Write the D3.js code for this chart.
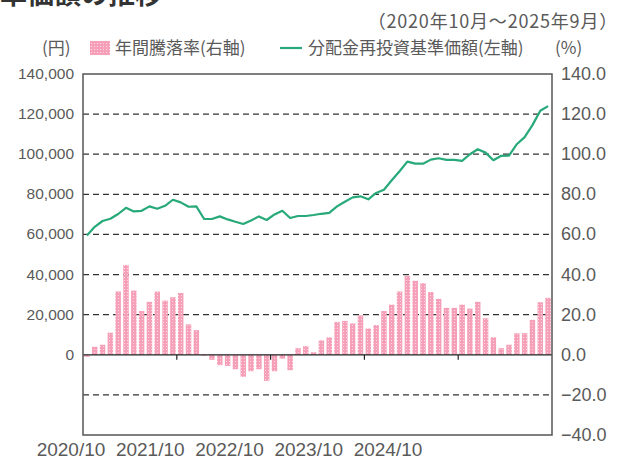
<!DOCTYPE html>
<html>
<head>
<meta charset="utf-8">
<script src="https://cdn.jsdelivr.net/npm/d3@7"></script>
<style>
  body { margin: 0; background: #fff; }
  svg { display: block; }
  text { font-family: "Liberation Sans", Arial, "Noto Sans CJK JP", sans-serif; fill: #5a5a5a; }
  .jp { font-family: "Noto Sans CJK JP", sans-serif; }
</style>
</head>
<body>
<div id="chart"></div>
<script>
// 年間騰落率 (%) 2020/10 - 2025/9, monthly
var returns = [-1, 4, 5, 11, 31.6, 44.8, 32, 21.8, 26.4, 31.5, 27, 28.7,
  30.8, 15.2, 12.3, -0.5, -2.5, -5.2, -5.6, -7.2, -11, -8.2, -7.2, -13,
  -8.2, -2, -7.7, 3.3, 4.3, 1.3, 7.2, 8.7, 16.4, 16.9, 15.6, 19.7,
  13.1, 14.8, 21.8, 25, 31.6, 39.3, 36.9, 35.7, 31.3, 27.9, 23.4, 23.4,
  25, 23, 26.4, 18.2, 8.7, 3.3, 5, 10.7, 10.8, 17.4, 26.2, 28.4];

// 分配金再投資基準価額 (円)
var nav = [59500, 63800, 66700, 67800, 70200, 73300, 71500, 71800, 74000, 72800, 74300, 77300,
  76000, 73800, 74000, 67700, 67700, 69000, 67500, 66300, 65200, 67000, 69000, 67200,
  70000, 71800, 68200, 69200, 69200, 69700, 70300, 70800, 74000, 76300, 78500, 79000,
  77500, 80700, 82300, 87000, 91500, 96300, 95300, 95300, 97300, 98000, 97200, 97200,
  96700, 100000, 102500, 100800, 97000, 99200, 99300, 105000, 108500, 114500, 121700, 124000];

var leftTicks = [140000, 120000, 100000, 80000, 60000, 40000, 20000, 0];
var rightTicks = [140, 120, 100, 80, 60, 40, 20, 0, -20, -40];
var xLabels = ["2020/10", "2021/10", "2022/10", "2023/10", "2024/10"];
var yearTicks = [12, 24, 36, 48];

var W = 617, H = 459;
var L = 83, R = 552, T = 74, B = 435;

var svg = d3.select("#chart").append("svg").attr("width", W).attr("height", H);

var months = d3.range(returns.length);
var x = d3.scaleBand().domain(months).range([L, R]).paddingInner(0.3).paddingOuter(0.15);
var xs = d3.scaleLinear().domain([0, returns.length]).range([L, R]);
var yL = d3.scaleLinear().domain([-40000, 140000]).range([B, T]);
var yR = d3.scaleLinear().domain([-40, 140]).range([B, T]);

// dot pattern for bars
var defs = svg.append("defs");
var pat = defs.append("pattern").attr("id", "dots").attr("patternUnits", "userSpaceOnUse")
  .attr("width", 3).attr("height", 3);
pat.append("rect").attr("width", 3).attr("height", 3).attr("fill", "#f5a0b8");
pat.append("rect").attr("x", 1).attr("y", 1).attr("width", 1).attr("height", 1).attr("fill", "#fcd8e2");

// title (cut at top) and period
svg.append("text").attr("class", "jp").attr("x", -27).attr("y", 4)
  .style("font-size", "27px").style("font-weight", "bold").style("fill", "#333")
  .text("基準価額の推移");
svg.append("text").attr("class", "jp").attr("x", 618).attr("y", 28)
  .attr("text-anchor", "end").style("font-size", "18px").style("letter-spacing", "0.8px")
  .text("（2020年10月～2025年9月）");

// grid
var gridVals = rightTicks.filter(function (d) { return d !== 0 && d !== 140 && d !== -40; });
svg.append("g").selectAll("line").data(gridVals).enter().append("line")
  .attr("x1", L).attr("x2", R)
  .attr("y1", function (d) { return yR(d); }).attr("y2", function (d) { return yR(d); })
  .attr("stroke", "#333").attr("stroke-width", 1.2).attr("stroke-dasharray", "6,4");

// bars
svg.append("g").selectAll("rect").data(returns).enter().append("rect")
  .attr("x", function (d, i) { return x(i); })
  .attr("width", x.bandwidth())
  .attr("y", function (d) { return yR(Math.max(0, d)); })
  .attr("height", function (d) { return Math.abs(yR(d) - yR(0)); })
  .attr("fill", "url(#dots)");

// zero line + year ticks
svg.append("line").attr("x1", L).attr("x2", R).attr("y1", yR(0)).attr("y2", yR(0))
  .attr("stroke", "#222").attr("stroke-width", 1.3);
svg.append("g").selectAll("line").data(yearTicks).enter().append("line")
  .attr("x1", function (d) { return xs(d); }).attr("x2", function (d) { return xs(d); })
  .attr("y1", yR(0)).attr("y2", yR(0) + 5)
  .attr("stroke", "#222").attr("stroke-width", 1.2);

// line
var line = d3.line()
  .x(function (d, i) { return x(i) + x.bandwidth() / 2; })
  .y(function (d) { return yL(d); });
svg.append("path").datum(nav).attr("d", line)
  .attr("fill", "none").attr("stroke", "#27a97a").attr("stroke-width", 2.2)
  .attr("stroke-linejoin", "round");

// frame
svg.append("rect").attr("x", L).attr("y", T).attr("width", R - L).attr("height", B - T)
  .attr("fill", "none").attr("stroke", "#555").attr("stroke-width", 1.5);

// left axis labels
svg.append("g").selectAll("text").data(leftTicks).enter().append("text")
  .attr("x", 74).attr("y", function (d) { return yL(d) + 5; })
  .attr("text-anchor", "end").style("font-size", "15.5px")
  .text(function (d) { return d3.format(",")(d); });

// right axis labels
svg.append("g").selectAll("text").data(rightTicks).enter().append("text")
  .attr("x", 561).attr("y", function (d) { return yR(d) + 6; })
  .style("font-size", "18px")
  .text(function (d) { return d3.format(".1f")(d); });

// bottom labels
var xl = d3.scalePoint().domain(xLabels).range([71, 388]);
svg.append("g").selectAll("text").data(xLabels).enter().append("text")
  .attr("x", function (d) { return xl(d); }).attr("y", 456)
  .attr("text-anchor", "middle").style("font-size", "19px")
  .text(function (d) { return d; });

// legend
svg.append("text").attr("class", "jp").attr("x", 42).attr("y", 54).style("font-size", "17px").text("(円)");
svg.append("rect").attr("x", 90).attr("y", 41).attr("width", 20).attr("height", 14).attr("fill", "url(#dots)");
svg.append("text").attr("class", "jp").attr("x", 115).attr("y", 54).style("font-size", "17px").text("年間騰落率(右軸)");
svg.append("line").attr("x1", 280).attr("x2", 302).attr("y1", 48).attr("y2", 48)
  .attr("stroke", "#27a97a").attr("stroke-width", 2.2);
svg.append("text").attr("class", "jp").attr("x", 308).attr("y", 54).style("font-size", "17px").text("分配金再投資基準価額(左軸)");
svg.append("text").attr("class", "jp").attr("x", 555).attr("y", 54).style("font-size", "17px").text("(%)");
</script>
</body>
</html>
